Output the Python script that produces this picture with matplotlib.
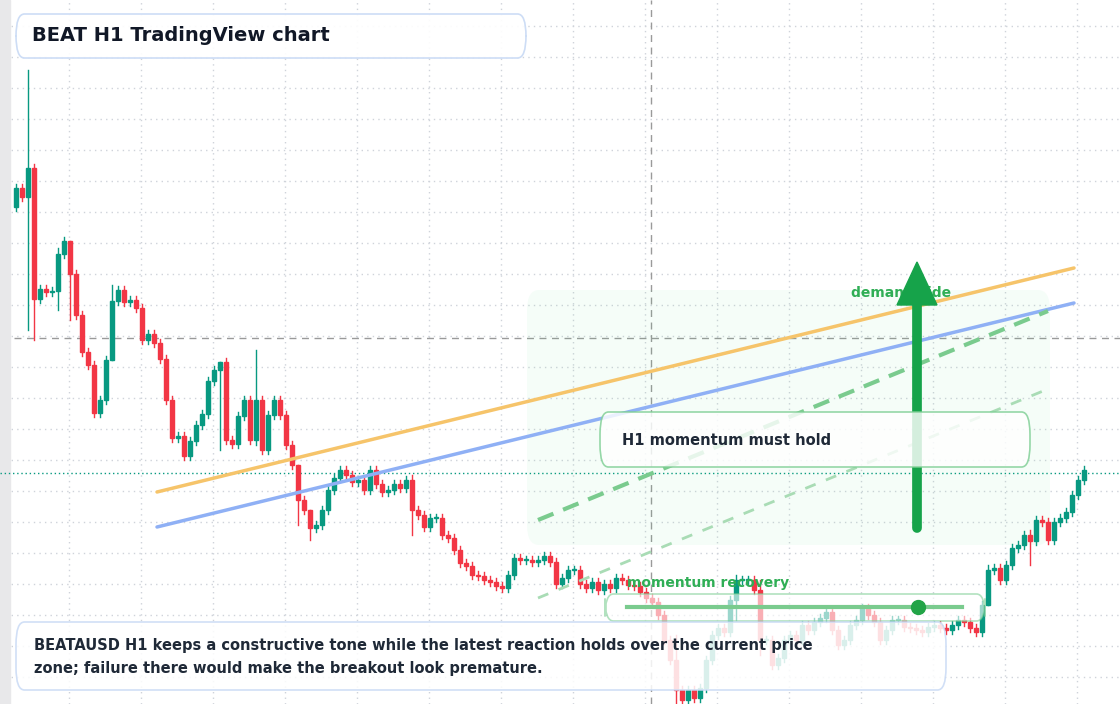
import matplotlib.pyplot as plt
from matplotlib.patches import FancyBboxPatch, Rectangle

# closes in price units, open of each bar = previous close
first_open = 51.3
closes = [53.2, 52.3, 55.2, 42.1, 43.1, 42.8, 42.9, 46.6, 47.9, 44.6, 40.5, 36.8, 35.5, 30.7, 32.0, 36.0,
          41.9, 43.0, 41.8, 42.0, 41.2, 38.0, 38.6, 37.7, 36.1, 32.0, 28.2, 28.4, 26.4, 27.9, 29.5, 30.6,
          33.9, 35.0, 35.8, 28.0, 27.6, 30.4, 32.0, 28.0, 32.0, 27.0, 30.5, 32.0, 30.5, 27.5, 25.5, 22.0,
          21.0, 19.2, 19.5, 21.0, 23.0, 24.2, 25.0, 24.5, 23.8, 24.0, 23.0, 25.0, 23.6, 22.8, 23.0, 23.6,
          23.2, 24.0, 21.0, 20.5, 19.3, 20.2, 20.2, 18.5, 18.2, 17.0, 15.7, 15.4, 14.5, 14.4, 14.0, 13.8,
          13.4, 13.2, 14.5, 16.2, 16.0, 16.0, 15.8, 16.0, 16.4, 15.8, 13.6, 14.2, 15.0, 15.0, 13.6, 13.2,
          13.8, 13.0, 13.6, 13.2, 14.2, 14.0, 13.5, 13.4, 12.8, 12.2, 11.8, 10.5, 8.0, 6.0, 3.0, 2.0,
          3.0, 2.2, 3.2, 6.0, 8.5, 9.2, 8.8, 12.0, 14.0, 14.0, 14.0, 13.0, 8.0, 8.0, 5.5, 6.2, 8.0, 8.5,
          8.0, 9.5, 9.0, 9.8, 10.2, 10.8, 9.0, 7.5, 8.0, 9.5, 10.0, 11.2, 10.5, 9.8, 8.0, 9.0, 10.0, 10.0,
          9.3, 9.2, 9.0, 8.8, 9.3, 9.5, 9.2, 9.0, 9.5, 10.0, 9.8, 9.2, 8.8, 11.5, 15.0, 15.2, 14.0, 15.5,
          17.2, 17.5, 18.5, 17.9, 20.0, 19.8, 18.0, 19.8, 20.2, 20.8, 22.5, 24.0, 25.0]
# long wicks (index: (high, low)); other bars get short wicks
long_wicks = {2: (65.0, 39.0), 3: (55.6, 38.0), 7: (47.2, 41.0), 9: (43.5, 40.0), 16: (43.5, 38.0),
              34: (35.8, 27.0), 40: (37.0, 27.5), 47: (25.5, 19.5), 49: (19.2, 18.0), 66: (24.5, 18.5),
              110: (8.5, 1.0), 120: (14.5, 10.0), 124: (14.0, 6.5), 162: (15.5, 13.0), 169: (19.0, 15.5)}

green, red = '#089981', '#f23645'

fig = plt.figure(figsize=(11.2, 7.04), dpi=100)
ax = fig.add_axes([0, 0, 1, 1])
ax.set_xlim(-16 / 6, (1120 - 16) / 6)
ax.set_ylim(72 - 70.4, 72)
ax.axis('off')


def px(x, y):
    return (x - 16) / 6, 72 - y / 10


# grid
for gx in range(69, 1120, 72):
    ax.axvline(px(gx, 0)[0], color='#cfd3da', lw=1, ls=(0, (1, 3)), zorder=0)
for gy in range(26, 704, 31):
    ax.axhline(px(0, gy)[1], color='#cfd3da', lw=1, ls=(0, (1, 3)), zorder=0)
ax.add_patch(Rectangle((0, 0), 10 / 1120, 1, transform=ax.transAxes, color='#e8e8ea', zorder=1))
ax.axhline(px(0, 338)[1], xmin=14 / 1120, color='#9a9a9a', lw=1, ls=(0, (5, 4)), zorder=1)
ax.axvline(px(651, 0)[0], color='#9a9a9a', lw=1, ls=(0, (5, 4)), zorder=1)

# candles
o = first_open
for i, c in enumerate(closes):
    col = green if c >= o else red
    hi, lo = long_wicks.get(i, (max(o, c) + 0.4, min(o, c) - 0.4))
    hi, lo = max(hi, o, c), min(lo, o, c)
    ax.plot([i, i], [lo, hi], color=col, lw=1, zorder=3)
    ax.add_patch(Rectangle((i - 0.38, min(o, c)), 0.76, max(abs(c - o), 0.1), color=col, zorder=3))
    o = c

ax.axhline(closes[-1] - 0.3, color=green, lw=1, ls=(0, (1, 2)), zorder=2)

# trend lines
ax.plot(*zip(px(157, 492), px(1074, 268)), color='#f6c46a', lw=2.5, zorder=4, solid_capstyle='round')
ax.plot(*zip(px(157, 527), px(1074, 303)), color='#8fb0f5', lw=2.5, zorder=4, solid_capstyle='round')

# demand zone
x0, y0 = px(527, 545)
x1, y1 = px(1050, 290)
ax.add_patch(FancyBboxPatch((x0, y0), x1 - x0, y1 - y0, boxstyle='round,pad=0,rounding_size=2',
                            color='#4ade80', alpha=0.05, lw=0, zorder=2))
ax.plot(*zip(px(538, 520), px(1048, 311)), color='#7acb8e', lw=3, ls=(0, (4, 2.5)), zorder=4)
ax.plot(*zip(px(538, 598), px(1048, 389)), color='#a9dcb5', lw=2, ls=(0, (4, 4)), zorder=4)
ax.text(*px(851, 293), 'demand side', color='#2fae55', fontsize=10, fontweight='bold', va='center', zorder=5)
ax.plot(*zip(px(917, 528), px(917, 300)), color='#16a34a', lw=7, solid_capstyle='round', zorder=6)
ax.fill([px(897, 305)[0], px(917, 262)[0], px(937, 305)[0]],
        [px(897, 305)[1], px(917, 262)[1], px(937, 305)[1]], color='#16a34a', zorder=6)


def box(x, y, w, h, ec, fc='white', alpha=0.82):
    bx, by = px(x, y + h)
    ax.add_patch(FancyBboxPatch((bx, by), w / 6, h / 10, boxstyle='round,pad=0,rounding_size=1.4',
                                fc=fc, ec=ec, lw=1.2, alpha=alpha, zorder=7, mutation_aspect=1.6))


box(600, 412, 430, 55, '#7fcf95')
ax.text(*px(622, 441), 'H1 momentum must hold', fontsize=10.5, fontweight='bold', color='#1f2937',
        va='center', zorder=8)

box(605, 594, 380, 27, '#7fcf95', alpha=0.6)
ax.plot(*zip(px(627, 607), px(962, 607)), color='#7acb8e', lw=3, zorder=8)
ax.plot(*px(918, 607), 'o', color='#22a447', ms=10, zorder=8)
ax.text(*px(627, 583), 'momentum recovery', color='#2fae55', fontsize=10, fontweight='bold',
        va='center', zorder=8)

box(16, 14, 510, 44, '#c9daf5', alpha=0.92)
ax.text(*px(32, 36), 'BEAT H1 TradingView chart', fontsize=14, fontweight='bold', color='#111827',
        va='center', zorder=8)

box(16, 622, 930, 68, '#c9daf5', alpha=0.85)
ax.text(*px(34, 657), 'BEATAUSD H1 keeps a constructive tone while the latest reaction holds over the current price\n'
        'zone; failure there would make the breakout look premature.', fontsize=10.5, fontweight='bold',
        color='#1f2937', va='center', linespacing=1.6, zorder=8)

fig.savefig('out.png', dpi=100)
